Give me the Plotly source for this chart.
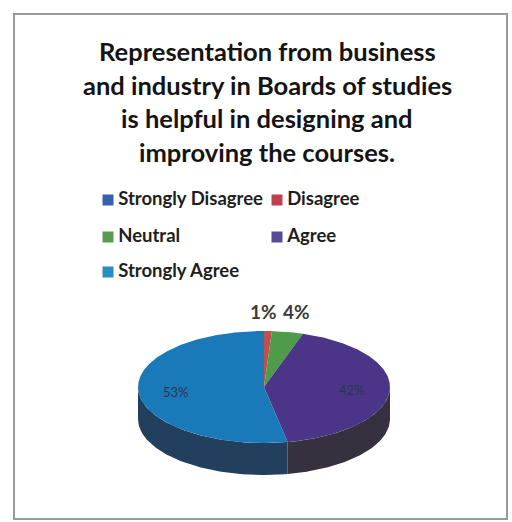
import numpy as np
import plotly.graph_objects as go

# Survey responses (percent of respondents)
categories = ["Strongly Disagree", "Disagree", "Neutral", "Agree", "Strongly Agree"]
shares = [0, 1, 4, 42, 53]

top_colors = ["#3f63a8", "#c0504d", "#4e9c4a", "#4a3588", "#1a79b9"]
side_colors = ["#2c3f66", "#6a2c30", "#2f4a36", "#37303f", "#223f5e"]
legend_colors = ["#3a5fae", "#c0404e", "#5a9a52", "#574a98", "#2a8ac2"]

title_lines = [
    "Representation from business",
    "and industry in Boards of studies",
    "is helpful in designing and",
    "improving the courses.",
]

W, H = 512, 522
FONT = "Lato"

# elliptical "3D" pie geometry (pixel space, y grows downward)
cx, cy, rx, ry, depth = 264, 387, 126, 56, 32

fig = go.Figure()

total = float(sum(shares))
bounds = np.concatenate([[0.0], np.cumsum(shares) / total * 360.0])


def edge(theta_deg, dy=0.0):
    t = np.radians(theta_deg)
    return cx + rx * np.sin(t), cy - ry * np.cos(t) + dy


# side walls (front half only: 90..270 degrees clockwise from 12 o'clock)
for i, cat in enumerate(categories):
    a0, a1 = bounds[i], bounds[i + 1]
    lo, hi = max(a0, 90.0), min(a1, 270.0)
    if hi <= lo:
        continue
    th = np.linspace(lo, hi, 80)
    xt, yt = edge(th)
    xb, yb = edge(th[::-1], depth)
    fig.add_trace(go.Scatter(
        x=np.concatenate([xt, xb, xt[:1]]), y=np.concatenate([yt, yb, yt[:1]]),
        mode="lines", fill="toself", fillcolor=side_colors[i],
        line=dict(width=0, color=side_colors[i]), hoverinfo="skip", showlegend=False))

# top faces
for i, cat in enumerate(categories):
    a0, a1 = bounds[i], bounds[i + 1]
    if a1 - a0 <= 0:
        continue
    th = np.linspace(a0, a1, max(4, int((a1 - a0) * 2)))
    xe, ye = edge(th)
    fig.add_trace(go.Scatter(
        x=np.concatenate([[cx], xe, [cx]]), y=np.concatenate([[cy], ye, [cy]]),
        mode="lines", fill="toself", fillcolor=top_colors[i],
        line=dict(width=0, color=top_colors[i]), name=cat,
        hoverinfo="name", showlegend=False))

# data labels
mids = (bounds[:-1] + bounds[1:]) / 2
annots = []
for i, v in enumerate(shares):
    if v == 0:
        continue
    if v < 10:
        # small slices labelled above the pie
        mx, _ = edge(mids[i])
        annots.append(dict(
            x=mx + (11 if i == 1 else -7), y=311, text=f"{v}%", showarrow=False,
            xanchor="right" if i == 1 else "left", yanchor="middle",
            font=dict(family=FONT, size=19, color="#3a3a3a", weight="bold")))
    else:
        t = np.radians(mids[i])
        annots.append(dict(
            x=cx + 0.7 * rx * np.sin(t), y=cy - 0.7 * ry * np.cos(t) + 1,
            text=f"{v}%", showarrow=False,
            font=dict(family=FONT, size=13, color="#2c3550")))

# title, one line per annotation
for k, line in enumerate(title_lines):
    annots.append(dict(
        x=267, y=51 + 33.5 * k, text=line, showarrow=False,
        xanchor="center", yanchor="middle",
        font=dict(family=FONT, size=25.5, color="#141414", weight="bold")))

# legend swatches and labels
leg_pos = [(108, 200), (277, 200), (108, 237), (277, 237), (108, 272)]
for i, cat in enumerate(categories):
    lx, ly = leg_pos[i]
    fig.add_trace(go.Scatter(
        x=[lx], y=[ly], mode="markers+text", text=["\u2009" + cat],
        textposition="middle right",
        textfont=dict(family=FONT, size=18.5, color="#1e1e1e", weight="bold"),
        marker=dict(symbol="square", size=11, color=legend_colors[i]),
        hoverinfo="skip", showlegend=False, cliponaxis=False))

fig.update_layout(
    width=W, height=H,
    margin=dict(l=0, r=0, t=0, b=0),
    paper_bgcolor="white", plot_bgcolor="white",
    xaxis=dict(range=[0, W], visible=False, fixedrange=True),
    yaxis=dict(range=[H, 0], visible=False, fixedrange=True),
    annotations=annots,
    shapes=[dict(type="rect", xref="x", yref="y", x0=14, y0=14, x1=507, y1=519,
                 line=dict(color="#9a9a9a", width=2), layer="below")],
    showlegend=False,
)

fig.write_html("out.html")
